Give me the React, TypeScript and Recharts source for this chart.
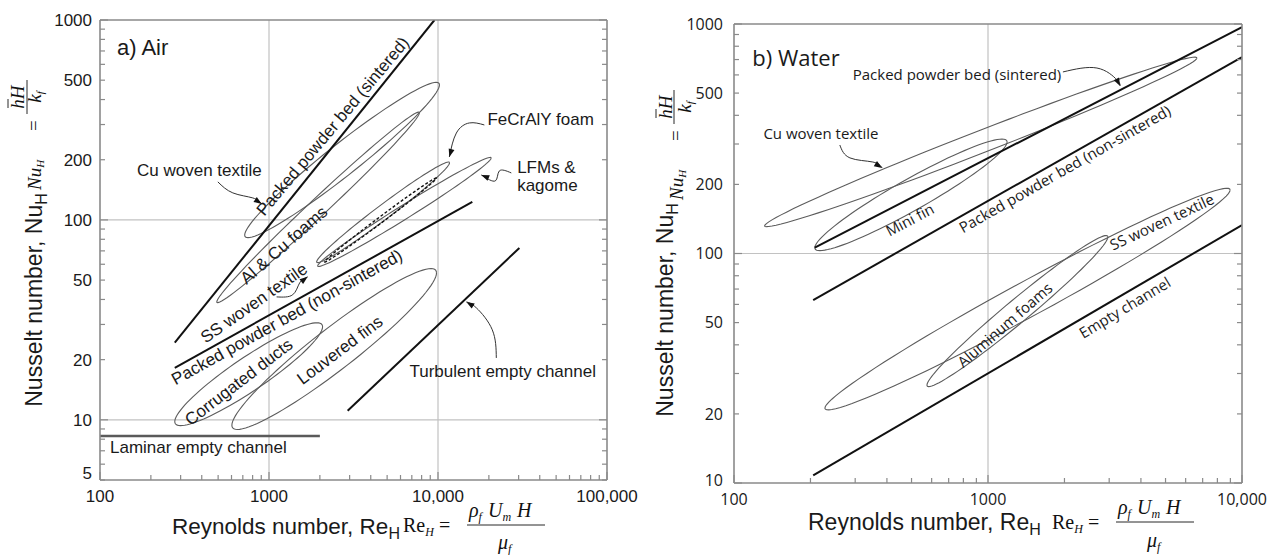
import React from 'react';
import { ComposedChart, Line, XAxis, YAxis, ReferenceLine, Scatter } from 'recharts';

type Pt = { re: number; nu: number };
type Region = { name: string; re1: number; nu1: number; re2: number; nu2: number; spread: number };

// ---------------- Panel a) Air ----------------
const airSinteredBed: Pt[] = [{ re: 277, nu: 24.3 }, { re: 9530, nu: 1000 }];
const airNonSinteredBed: Pt[] = [{ re: 277, nu: 18.2 }, { re: 15960, nu: 123 }];
const airTurbulentChannel: Pt[] = [{ re: 2920, nu: 11.1 }, { re: 30300, nu: 72.4 }];
const airLaminarChannel: Pt[] = [{ re: 100, nu: 8.3 }, { re: 2000, nu: 8.3 }];

// regions: low-Re tip, high-Re tip, half spread in decades of Nu
const airRegions: Region[] = [
  { name: 'Cu woven textile', re1: 718, nu1: 84, re2: 10200, nu2: 473, spread: 0.1 },
  { name: 'Al & Cu foams', re1: 491, nu1: 38.9, re2: 7760, nu2: 343, spread: 0.06 },
  { name: 'FeCrAlY foam', re1: 1914, nu1: 61.7, re2: 11700, nu2: 193, spread: 0.045 },
  { name: 'LFMs & kagome', re1: 1941, nu1: 58.9, re2: 20650, nu2: 204, spread: 0.04 },
  { name: 'Corrugated ducts', re1: 277, nu1: 9.8, re2: 2075, nu2: 29.2, spread: 0.1 },
  { name: 'Louvered fins', re1: 603, nu1: 9.4, re2: 9800, nu2: 54.3, spread: 0.13 },
];
const airDashedRegions: Region[] = [
  { name: 'SS woven textile', re1: 2133, nu1: 61.7, re2: 9800, nu2: 162, spread: 0.018 },
];
const airArrows: Pt[][] = [
  [{ re: 498, nu: 155 }, { re: 611, nu: 136.5 }, { re: 802, nu: 128.8 }, { re: 906, nu: 120.2 }],
  [{ re: 18800, nu: 298.5 }, { re: 15330, nu: 305.5 }, { re: 12840, nu: 272 }, { re: 11670, nu: 206.5 }],
  [{ re: 27150, nu: 171.8 }, { re: 23060, nu: 175.8 }, { re: 21840, nu: 156.7 }, { re: 18040, nu: 167.9 }],
  [{ re: 1109, nu: 41.2 }, { re: 1380, nu: 42.2 }, { re: 1518, nu: 48.4 }, { re: 1694, nu: 51.9 }],
  [{ re: 22130, nu: 20.4 }, { re: 20950, nu: 28.2 }, { re: 16870, nu: 36.3 }, { re: 14720, nu: 38.9 }],
];
const airReLabels: Record<number, string> = { 100: '100', 1000: '1000', 10000: '10,000', 100000: '100,000' };
const airNuLabels: Record<number, string> = { 5: '5', 10: '10', 20: '20', 50: '50', 100: '100', 200: '200', 500: '500', 1000: '1000' };
const airGridRe = [1000, 10000];
const airGridNu = [10, 100];

// ---------------- Panel b) Water ----------------
const waterSinteredBed: Pt[] = [{ re: 208, nu: 106 }, { re: 10000, nu: 970 }];
const waterNonSinteredBed: Pt[] = [{ re: 205, nu: 62.7 }, { re: 10000, nu: 718 }];
const waterEmptyChannel: Pt[] = [{ re: 205, nu: 10.8 }, { re: 10000, nu: 133 }];
const waterRegions: Region[] = [
  { name: 'Cu woven textile', re1: 132, nu1: 132, re2: 6650, nu2: 711, spread: 0.052 },
  { name: 'Mini fin', re1: 208, nu1: 106, re2: 1189, nu2: 306, spread: 0.078 },
  { name: 'Aluminum foams', re1: 575, nu1: 26.7, re2: 2966, nu2: 118, spread: 0.065 },
  { name: 'SS woven textile', re1: 228, nu1: 21.2, re2: 8980, nu2: 189, spread: 0.087 },
];
const waterArrows: Pt[][] = [
  [{ re: 261, nu: 297 }, { re: 286, nu: 261 }, { re: 352, nu: 250.4 }, { re: 383, nu: 236 }],
  [{ re: 1972, nu: 618 }, { re: 2685, nu: 643 }, { re: 3220, nu: 570 }, { re: 3313, nu: 537 }],
];
const waterReLabels: Record<number, string> = { 100: '100', 1000: '1000', 10000: '10,000' };
const waterNuLabels: Record<number, string> = { 10: '10', 20: '20', 50: '50', 100: '100', 200: '200', 500: '500', 1000: '1000' };
const waterGridRe = [1000];
const waterGridNu = [100];

// ---------------- annotation configuration ----------------
type Note = { text: string; re: number; nu: number; angle: number; anchor: 'start' | 'middle'; size?: number };
const airNotes: Note[] = [
  { text: 'a) Air', re: 126, nu: 733, angle: 0, anchor: 'start', size: 22 },
  { text: 'Cu woven textile', re: 165.6, nu: 178, angle: 0, anchor: 'start' },
  { text: 'FeCrAlY foam', re: 19600, nu: 320, angle: 0, anchor: 'start' },
  { text: 'LFMs &', re: 29400, nu: 184, angle: 0, anchor: 'start' },
  { text: 'kagome', re: 29400, nu: 150, angle: 0, anchor: 'start' },
  { text: 'Turbulent empty channel', re: 6780, nu: 17.6, angle: 0, anchor: 'start' },
  { text: 'Laminar empty channel', re: 114.6, nu: 7.33, angle: 0, anchor: 'start' },
  { text: 'Packed powder bed (sintered)', re: 2377, nu: 295, angle: 50, anchor: 'middle' },
  { text: 'Al & Cu foams', re: 1222, nu: 75, angle: 41, anchor: 'middle' },
  { text: 'SS woven textile', re: 813, nu: 38.5, angle: 35, anchor: 'middle' },
  { text: 'Packed powder bed (non-sintered)', re: 1274, nu: 32.7, angle: 29, anchor: 'middle' },
  { text: 'Corrugated ducts', re: 662, nu: 15.5, angle: 37.5, anchor: 'middle' },
  { text: 'Louvered fins', re: 2620, nu: 22.4, angle: 37, anchor: 'middle' },
];
const waterNotes: Note[] = [
  { text: 'b) Water', re: 118, nu: 711, angle: 0, anchor: 'start', size: 22 },
  { text: 'Packed powder bed (sintered)', re: 755, nu: 600, angle: 0, anchor: 'middle' },
  { text: 'Cu woven textile', re: 220, nu: 332, angle: 0, anchor: 'middle' },
  { text: 'Mini fin', re: 493, nu: 140, angle: 28, anchor: 'middle' },
  { text: 'Packed powder bed (non-sintered)', re: 2010, nu: 233, angle: 29.7, anchor: 'middle' },
  { text: 'SS woven textile', re: 4840, nu: 137, angle: 25, anchor: 'middle' },
  { text: 'Aluminum foams', re: 1167, nu: 48.8, angle: 41, anchor: 'middle' },
  { text: 'Empty channel', re: 3460, nu: 58, angle: 31, anchor: 'middle' },
];

// ---------------- helpers ----------------
const FONT_A = "Arial, 'Liberation Sans', Helvetica, sans-serif";
const FONT_B = "'Open Sans', 'Noto Sans', sans-serif";
const SERIF = "'Times New Roman', 'Liberation Serif', serif";
const FRAME = '#8a8a8a';
const GRID = '#c2c2c2';
const REGION = '#5c5c5c';

function decadeTicks(lo: number, hi: number): number[] {
  const out: number[] = [];
  for (let e = Math.floor(Math.log10(lo)); e <= Math.ceil(Math.log10(hi)); e++) {
    const base = Math.pow(10, e);
    for (let m = 1; m < 10; m++) {
      const v = m * base;
      if (v >= lo - 1e-9 && v <= hi + 1e-9) out.push(v);
    }
  }
  return out;
}
const isDecade = (v: number) => Math.abs(Math.log10(v) - Math.round(Math.log10(v))) < 1e-6;

function regionOutline(r: Region): Pt[] {
  const a = [Math.log10(r.re1), Math.log10(r.nu1)];
  const b = [Math.log10(r.re2), Math.log10(r.nu2)];
  const c = [(a[0] + b[0]) / 2, (a[1] + b[1]) / 2];
  const u = [(b[0] - a[0]) / 2, (b[1] - a[1]) / 2];
  const pts: Pt[] = [];
  const n = 96;
  for (let i = 0; i <= n; i++) {
    const t = (i / n) * 2 * Math.PI;
    pts.push({
      re: Math.pow(10, c[0] + Math.cos(t) * u[0]),
      nu: Math.pow(10, c[1] + Math.cos(t) * u[1] + Math.sin(t) * r.spread),
    });
  }
  return pts;
}

function makeTick(
  side: 'bottom' | 'top' | 'left' | 'right',
  labels: Record<number, string> | null,
  font: string,
  fontSize: number,
  gap: number,
  lowest = 0,
  lowestLift = 0
) {
  return (props: any) => {
    const { x, y, payload } = props;
    const v = payload.value;
    const len = isDecade(v) ? 8 : 5;
    const lab = labels ? labels[v] : undefined;
    if (side === 'bottom') {
      return (
        <g>
          <line x1={x} x2={x} y1={y} y2={y - len} stroke={FRAME} strokeWidth={1.2} />
          {lab ? <text x={x} y={y + gap} textAnchor="middle" fontFamily={font} fontSize={fontSize} fill="#1a1a1a">{lab}</text> : null}
        </g>
      );
    }
    if (side === 'top') {
      return <line x1={x} x2={x} y1={y} y2={y + len} stroke={FRAME} strokeWidth={1.2} />;
    }
    if (side === 'left') {
      const lift = Math.abs(v - lowest) < 1e-9 ? lowestLift : 0;
      return (
        <g>
          <line x1={x} x2={x + len} y1={y} y2={y} stroke={FRAME} strokeWidth={1.2} />
          {lab ? <text x={x - gap} y={y - lift} dy="0.36em" textAnchor="end" fontFamily={font} fontSize={fontSize} fill="#1a1a1a">{lab}</text> : null}
        </g>
      );
    }
    return <line x1={x} x2={x - len} y1={y} y2={y} stroke={FRAME} strokeWidth={1.2} />;
  };
}

const ArrowDot = (props: any) => {
  const { cx, cy, index, points } = props;
  if (!points || index !== points.length - 1 || index < 1) return null;
  const p = points[index - 1];
  const ang = Math.atan2(cy - p.y, cx - p.x);
  const L = 8;
  const W = 3;
  const bx = cx - L * Math.cos(ang);
  const by = cy - L * Math.sin(ang);
  const nx = -Math.sin(ang) * W;
  const ny = Math.cos(ang) * W;
  return <polygon key={`ah-${index}`} points={`${cx},${cy} ${bx + nx},${by + ny} ${bx - nx},${by - ny}`} fill="#111" />;
};

function makeNoteShape(font: string, size: number) {
  return (p: any) => {
    const { cx, cy, payload } = p;
    const fs = payload.size || size;
    return (
      <text
        x={cx}
        y={cy}
        dy="0.35em"
        textAnchor={payload.anchor}
        transform={payload.angle ? `rotate(${-payload.angle},${cx},${cy})` : undefined}
        fontFamily={font}
        fontSize={fs}
        fill="#1a1a1a"
      >
        {payload.text}
      </text>
    );
  };
}

type PanelCfg = {
  width: number;
  height: number;
  margin: { top: number; right: number; bottom: number; left: number };
  yAxisWidth: number;
  reDomain: [number, number];
  nuDomain: [number, number];
  reLabels: Record<number, string>;
  nuLabels: Record<number, string>;
  gridRe: number[];
  gridNu: number[];
  thick: Pt[][];
  grayLines: Pt[][];
  regions: Region[];
  dashed: Region[];
  arrows: Pt[][];
  notes: Note[];
  tickFont: string;
  tickSize: number;
  xGap: number;
  yGap: number;
  lowestLift: number;
  noteFont: string;
  noteSize: number;
};

function Panel(c: PanelCfg) {
  const reTicks = decadeTicks(c.reDomain[0], c.reDomain[1]);
  const nuTicks = decadeTicks(c.nuDomain[0], c.nuDomain[1]);
  const axisLine = { stroke: FRAME, strokeWidth: 1.6 };
  return (
    <ComposedChart width={c.width} height={c.height} margin={c.margin}>
      <XAxis dataKey="re" type="number" scale="log" domain={c.reDomain} allowDataOverflow ticks={reTicks} interval={0}
        tickLine={false} tickSize={0} tickMargin={0} height={40} axisLine={axisLine}
        tick={makeTick('bottom', c.reLabels, c.tickFont, c.tickSize, c.xGap)} />
      <XAxis xAxisId="t" orientation="top" type="number" scale="log" domain={c.reDomain} allowDataOverflow ticks={reTicks} interval={0}
        tickLine={false} tickSize={0} tickMargin={0} height={1} axisLine={axisLine}
        tick={makeTick('top', null, c.tickFont, c.tickSize, 0)} />
      <YAxis dataKey="nu" type="number" scale="log" domain={c.nuDomain} allowDataOverflow ticks={nuTicks} interval={0}
        tickLine={false} tickSize={0} tickMargin={0} width={c.yAxisWidth} axisLine={axisLine}
        tick={makeTick('left', c.nuLabels, c.tickFont, c.tickSize, c.yGap, c.nuDomain[0], c.lowestLift)} />
      <YAxis yAxisId="r" orientation="right" type="number" scale="log" domain={c.nuDomain} allowDataOverflow ticks={nuTicks} interval={0}
        tickLine={false} tickSize={0} tickMargin={0} width={1} axisLine={axisLine}
        tick={makeTick('right', null, c.tickFont, c.tickSize, 0)} />
      {c.gridRe.map((v) => (
        <ReferenceLine key={`gx${v}`} x={v} stroke={GRID} strokeWidth={1.2} />
      ))}
      {c.gridNu.map((v) => (
        <ReferenceLine key={`gy${v}`} y={v} stroke={GRID} strokeWidth={1.2} />
      ))}
      {c.regions.map((r, i) => (
        <Line key={`rg${i}`} data={regionOutline(r)} dataKey="nu" type="linear" dot={false} activeDot={false}
          stroke={REGION} strokeWidth={1.1} isAnimationActive={false} />
      ))}
      {c.dashed.map((r, i) => (
        <Line key={`dr${i}`} data={regionOutline(r)} dataKey="nu" type="linear" dot={false} activeDot={false}
          stroke="#111" strokeWidth={1.4} strokeDasharray="3 2" isAnimationActive={false} />
      ))}
      {c.grayLines.map((d, i) => (
        <Line key={`gl${i}`} data={d} dataKey="nu" type="linear" dot={false} activeDot={false}
          stroke="#5a5a5a" strokeWidth={2.6} isAnimationActive={false} />
      ))}
      {c.thick.map((d, i) => (
        <Line key={`tl${i}`} data={d} dataKey="nu" type="linear" dot={false} activeDot={false}
          stroke="#111" strokeWidth={2} isAnimationActive={false} />
      ))}
      {c.arrows.map((d, i) => (
        <Line key={`ar${i}`} data={d} dataKey="nu" type="natural" dot={ArrowDot} activeDot={false}
          stroke="#333" strokeWidth={1} isAnimationActive={false} />
      ))}
      <Scatter data={c.notes} isAnimationActive={false} shape={makeNoteShape(c.noteFont, c.noteSize)} />
    </ComposedChart>
  );
}

function NuFormula({ x, y, nuBase, numBase, denBase }: { x: number; y: number; nuBase: number; numBase: number; denBase: number }) {
  const s = 19;
  return (
    <g transform={`translate(${x},${y}) rotate(-90)`} fontFamily={SERIF} fill="#111">
      <text x={0} y={nuBase} fontSize={s} fontStyle="italic">Nu<tspan fontSize={11} dy={3}>H</tspan></text>
      <text x={59} y={nuBase - 1} fontSize={s}>=</text>
      <line x1={76} x2={110} y1={0} y2={0} stroke="#111" strokeWidth={0.9} />
      <text x={93} y={numBase} fontSize={s} fontStyle="italic" textAnchor="middle">hH</text>
      <line x1={82} x2={91} y1={numBase - 16} y2={numBase - 16} stroke="#111" strokeWidth={0.9} />
      <text x={93} y={denBase} fontSize={s} fontStyle="italic" textAnchor="middle">k<tspan fontSize={11} dy={3}>f</tspan></text>
    </g>
  );
}

function ReFormula({ x, y, barY, numY, denY }: { x: number; y: number; barY: number; numY: number; denY: number }) {
  const s = 20;
  return (
    <g fontFamily={SERIF} fill="#111">
      <text x={x} y={y} fontSize={s}>Re<tspan fontSize={12} dy={4} fontStyle="italic">H</tspan></text>
      <text x={x + 36} y={y} fontSize={s}>=</text>
      <line x1={x + 64} x2={x + 142} y1={barY} y2={barY} stroke="#111" strokeWidth={0.9} />
      <text x={x + 66} y={numY} fontSize={s} fontStyle="italic">
        ρ<tspan fontSize={12} dy={4}>f</tspan>
        <tspan dy={-4} dx={6}>U</tspan>
        <tspan fontSize={12} dy={4}>m</tspan>
        <tspan dy={-4} dx={6}>H</tspan>
      </text>
      <text x={x + 95} y={denY} fontSize={s} fontStyle="italic">μ<tspan fontSize={12} dy={4}>f</tspan></text>
    </g>
  );
}

export default function App() {
  return (
    <div style={{ position: 'absolute', left: 0, top: 0, width: 1278, height: 555, background: '#fff', overflow: 'hidden' }}>
      <div style={{ position: 'absolute', left: 0, top: 0 }}>
        <Panel
          width={640}
          height={555}
          margin={{ top: 19, right: 32, bottom: 35, left: 40 }}
          yAxisWidth={60}
          reDomain={[100, 100000]}
          nuDomain={[5, 1000]}
          reLabels={airReLabels}
          nuLabels={airNuLabels}
          gridRe={airGridRe}
          gridNu={airGridNu}
          thick={[airSinteredBed, airNonSinteredBed, airTurbulentChannel]}
          grayLines={[airLaminarChannel]}
          regions={airRegions}
          dashed={airDashedRegions}
          arrows={airArrows}
          notes={airNotes}
          tickFont={FONT_A}
          tickSize={17}
          xGap={22}
          yGap={8}
          lowestLift={7}
          noteFont={FONT_A}
          noteSize={17}
        />
      </div>
      <div style={{ position: 'absolute', left: 640, top: 0 }}>
        <Panel
          width={638}
          height={555}
          margin={{ top: 23, right: 35, bottom: 32, left: 40 }}
          yAxisWidth={54}
          reDomain={[100, 10000]}
          nuDomain={[10, 1000]}
          reLabels={waterReLabels}
          nuLabels={waterNuLabels}
          gridRe={waterGridRe}
          gridNu={waterGridNu}
          thick={[waterSinteredBed, waterNonSinteredBed, waterEmptyChannel]}
          grayLines={[]}
          regions={waterRegions}
          dashed={[]}
          arrows={waterArrows}
          notes={waterNotes}
          tickFont={FONT_B}
          tickSize={16}
          xGap={22}
          yGap={11}
          lowestLift={3}
          noteFont={FONT_B}
          noteSize={15}
        />
      </div>
      <svg width={1278} height={555} style={{ position: 'absolute', left: 0, top: 0, pointerEvents: 'none' }}>
        {/* left panel titles */}
        <text transform="translate(42,300) rotate(-90)" textAnchor="middle" fontFamily={FONT_A} fontSize={23} fill="#1a1a1a">
          Nusselt number, Nu<tspan fontSize={16} dy={5}>H</tspan>
        </text>
        <NuFormula x={27} y={190} nuBase={14} numBase={-3} denBase={14} />
        <text x={172} y={534} fontFamily={FONT_A} fontSize={22.5} fill="#1a1a1a">
          Reynolds number, Re<tspan fontSize={16} dy={5}>H</tspan>
        </text>
        <ReFormula x={403} y={532} barY={525} numY={517} denY={549} />
        {/* right panel titles */}
        <text transform="translate(673,310) rotate(-90)" textAnchor="middle" fontFamily={FONT_A} fontSize={23} fill="#1a1a1a">
          Nusselt number, Nu<tspan fontSize={16} dy={5}>H</tspan>
        </text>
        <NuFormula x={674} y={200} nuBase={9} numBase={-2} denBase={17} />
        <text x={808} y={530} fontFamily={FONT_A} fontSize={23} fill="#1a1a1a">
          Reynolds number, Re<tspan fontSize={16} dy={5}>H</tspan>
        </text>
        <ReFormula x={1052} y={529} barY={522} numY={514} denY={547} />
      </svg>
    </div>
  );
}
